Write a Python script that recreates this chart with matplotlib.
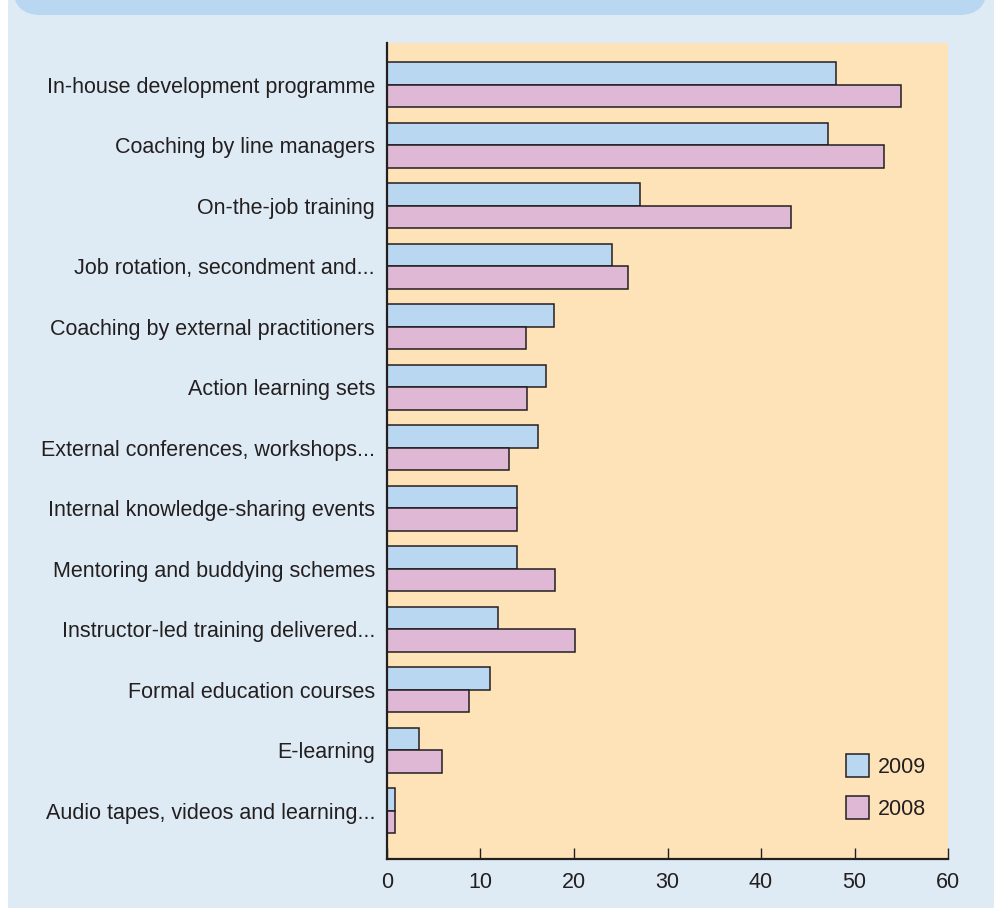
import matplotlib
matplotlib.use("Agg")
import matplotlib.pyplot as plt
import numpy as np
from matplotlib.patches import FancyBboxPatch, Rectangle, Patch

plt.rcParams['font.family'] = ['Liberation Sans', 'DejaVu Sans']

categories = [
    "In-house development programme",
    "Coaching by line managers",
    "On-the-job training",
    "Job rotation, secondment and...",
    "Coaching by external practitioners",
    "Action learning sets",
    "External conferences, workshops...",
    "Internal knowledge-sharing events",
    "Mentoring and buddying schemes",
    "Instructor-led training delivered...",
    "Formal education courses",
    "E-learning",
    "Audio tapes, videos and learning...",
]
values_2009 = [48.0, 47.2, 27.1, 24.1, 17.9, 17.0, 16.2, 13.9, 13.9, 11.9, 11.0, 3.4, 0.9]
values_2008 = [55.0, 53.2, 43.2, 25.8, 14.9, 15.0, 13.1, 13.9, 18.0, 20.1, 8.8, 5.85, 0.9]
series_labels = ["2009", "2008"]
xticks = [0, 10, 20, 30, 40, 50, 60]

C_BG = "#deebf4"
C_BANNER = "#b9d7f0"
C_PLOT = "#fee3b9"
C_2009 = "#b9d7f1"
C_2008 = "#dfb8d5"
C_EDGE = "#231f20"
C_TEXT = "#231f20"

W, H = 995, 908
fig = plt.figure(figsize=(W / 100, H / 100), dpi=100, facecolor="white")

# light blue panel
fig.patches.append(Rectangle((8 / W, 0), 1 - 8 / W, 1, transform=fig.transFigure,
                             facecolor=C_BG, edgecolor="none", zorder=-3))
# banner with rounded bottom corners
fig.patches.append(FancyBboxPatch((13 / W, 1 - 15 / H), (987 - 13) / W, 60 / H,
                                  boxstyle="round,pad=0,rounding_size=0.028",
                                  transform=fig.transFigure, mutation_aspect=W / H,
                                  facecolor=C_BANNER, edgecolor="none", zorder=-2))

ax = fig.add_axes([387 / W, 1 - 859 / H, (948 - 387) / W, (859 - 43) / H])
ax.set_facecolor(C_PLOT)

y = np.arange(len(categories))
bh = 0.372
ax.barh(y - bh / 2, values_2009, height=bh, color=C_2009, edgecolor=C_EDGE,
        linewidth=1.1, label=series_labels[0], zorder=3)
ax.barh(y + bh / 2, values_2008, height=bh, color=C_2008, edgecolor=C_EDGE,
        linewidth=1.1, label=series_labels[1], zorder=3)

ax.set_ylim(12.80, -0.686)
ax.set_xlim(0, 60)
ax.set_yticks(y)
ax.set_yticklabels(categories, fontsize=15.5, color=C_TEXT)
ax.tick_params(axis='y', length=0, pad=8.6)
ax.set_xticks(xticks)
ax.set_xticklabels([str(t) for t in xticks], fontsize=15.5, color=C_TEXT)
ax.tick_params(axis='x', direction='in', length=8, width=1.0, color=C_EDGE, pad=9)

for s in ["top", "right"]:
    ax.spines[s].set_visible(False)
for s in ["left", "bottom"]:
    ax.spines[s].set_linewidth(1.6)
    ax.spines[s].set_color(C_EDGE)
    ax.spines[s].set_zorder(4)

handles = [Patch(facecolor=C_2009, edgecolor=C_EDGE, linewidth=1.1),
           Patch(facecolor=C_2008, edgecolor=C_EDGE, linewidth=1.1)]
leg = fig.legend(handles, series_labels, loc="upper left",
                 bbox_to_anchor=(845.7 / W, 1 - 754 / H),
                 frameon=False, fontsize=15.5, handlelength=1.07, handleheight=1.266,
                 handletextpad=0.42, labelspacing=0.84, borderpad=0, borderaxespad=0)
for t in leg.get_texts():
    t.set_color(C_TEXT)

fig.savefig("out.png", dpi=100, facecolor="white")
